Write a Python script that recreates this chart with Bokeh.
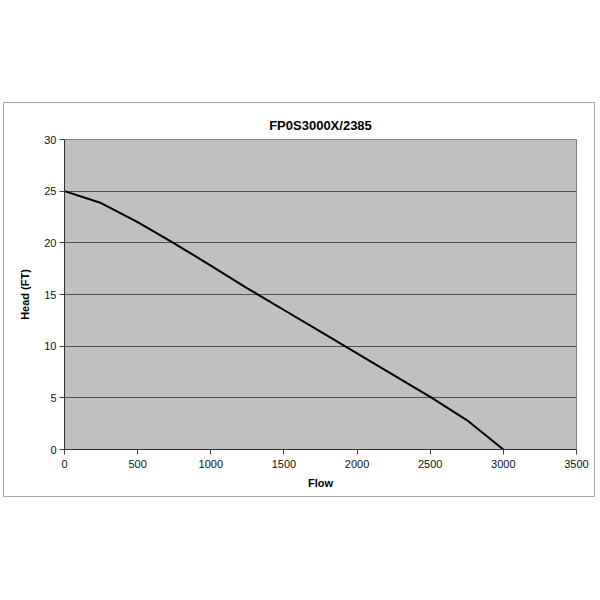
from bokeh.plotting import figure
from bokeh.models import Range1d, FixedTicker, Spacer
from bokeh.layouts import column, row
from bokeh.embed import file_html
from bokeh.resources import INLINE

flow = [0, 250, 500, 750, 1000, 1250, 1500, 1750, 2000, 2250, 2500, 2750, 3000]
head = [25.0, 23.85, 22.0, 19.95, 17.8, 15.6, 13.5, 11.4, 9.3, 7.2, 5.1, 2.85, 0.0]
x_ticks = [0, 500, 1000, 1500, 2000, 2500, 3000, 3500]
y_ticks = [0, 5, 10, 15, 20, 25, 30]
title_text = "FP0S3000X/2385"

FONT = "Liberation Sans"

p = figure(width=590, height=393, output_backend="svg", toolbar_location=None,
           x_range=Range1d(0, 3500), y_range=Range1d(0, 30),
           min_border_left=60, min_border_right=18, min_border_top=36, min_border_bottom=47,
           title=title_text)

p.title.align = "center"
p.title.text_font = FONT
p.title.text_font_size = "13px"
p.title.text_font_style = "bold"
p.title.text_color = "#000000"
p.title.offset = 0
p.title.standoff = 14

p.background_fill_color = "#c0c0c0"
p.border_fill_color = "#ffffff"
p.outline_line_color = "#808080"
p.outline_line_width = 1

p.xgrid.visible = False
p.ygrid.ticker = FixedTicker(ticks=y_ticks)
p.ygrid.grid_line_color = "#505050"
p.ygrid.grid_line_width = 1

for ax, ticks in ((p.xaxis, x_ticks), (p.yaxis, y_ticks)):
    ax.ticker = FixedTicker(ticks=ticks)
    ax.minor_tick_line_color = None
    ax.major_tick_in = 0
    ax.major_tick_out = 5
    ax.major_tick_line_color = "#404040"
    ax.axis_line_color = "#303030"
    ax.major_label_text_font = FONT
    ax.major_label_text_font_size = "11px"
    ax.major_label_text_color = "#111111"
    ax.axis_label_text_font = FONT
    ax.axis_label_text_font_size = "11px"
    ax.axis_label_text_font_style = "bold"
    ax.axis_label_text_color = "#000000"

p.xaxis.axis_label = "Flow"
p.yaxis.axis_label = "Head (FT)"
p.xaxis.major_label_standoff = 5
p.yaxis.major_label_standoff = 3
p.xaxis.axis_label_standoff = 6
p.yaxis.axis_label_standoff = 10

p.line(flow, head, line_color="#000000", line_width=2)

boxed = column(p, styles={"border": "1px solid #a8a8a8"})
layout = column(Spacer(height=102), row(Spacer(width=3), boxed))

with open("out.html", "w") as f:
    f.write(file_html(layout, INLINE))
